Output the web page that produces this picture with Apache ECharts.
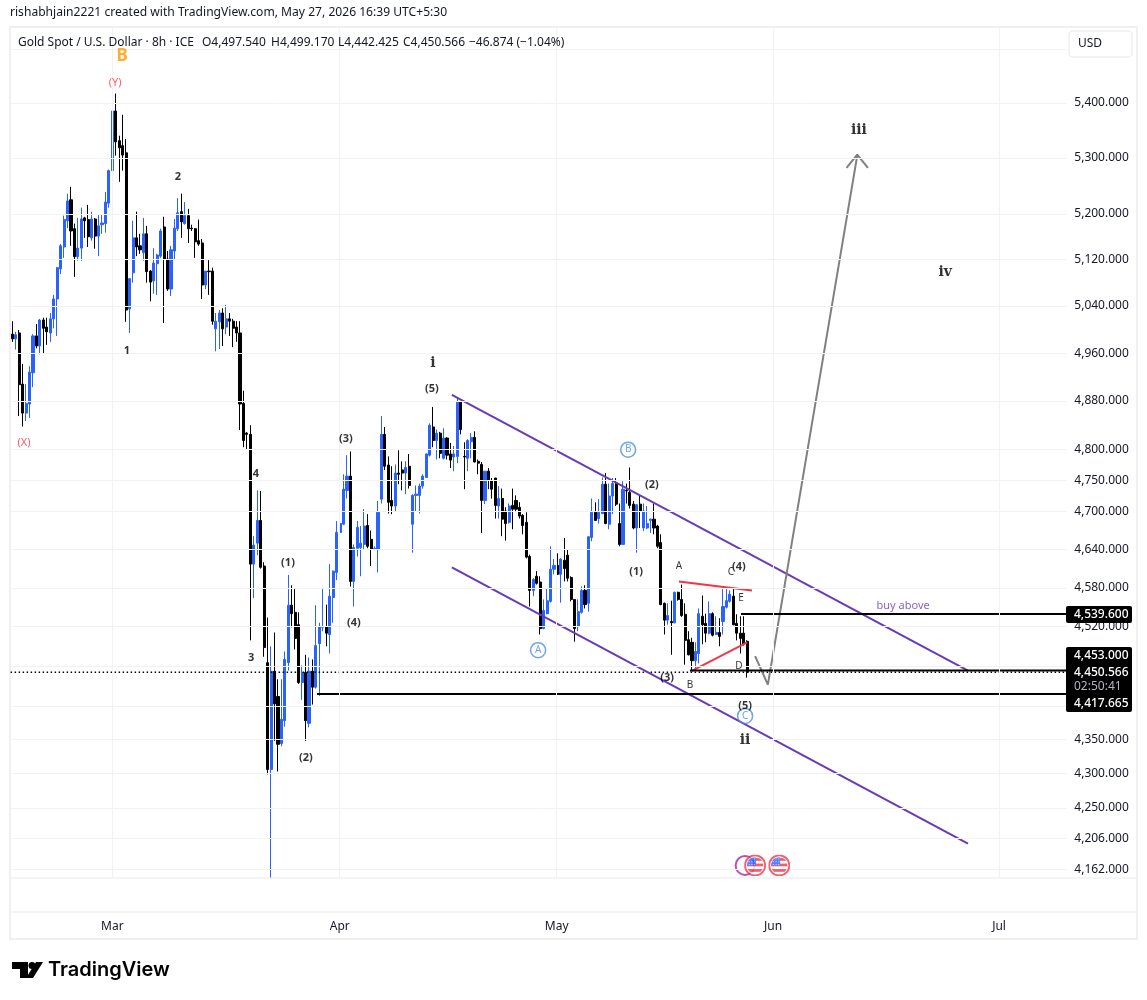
<!DOCTYPE html>
<html>
<head>
<meta charset="utf-8">
<style>html,body{margin:0;padding:0;background:#fff}#c{width:1147px;height:1000px}</style>
<script src="https://cdn.jsdelivr.net/npm/echarts@6/dist/echarts.min.js"></script>
</head>
<body>
<div id="c"></div>
<script>
const opens = [
4992,4984,4994,4908,4860,4875,4927,4989,4972,5016,
5004,4994,5018,5052,5104,5142,5188,5225,5174,5125,
5140,5193,5190,5158,5191,5161,5181,5183,5219,5277,
5385,5331,5322,5309,5035,5097,5158,5144,5132,5165,
5100,5083,5113,5126,5177,5121,5069,5135,5174,5204,
5183,5197,5175,5174,5153,5149,5076,5100,5100,5001,
5013,5028,5004,5018,5014,5004,4994,4876,4827,4825,
4617,4650,4686,4614,4465,4306,4452,4414,4344,4378,
4465,4553,4542,4523,4435,4450,4374,4452,4428,4494,
4519,4520,4508,4565,4604,4667,4680,4734,4757,4590,
4642,4643,4648,4678,4656,4640,4640,4720,4825,4775,
4718,4709,4762,4767,4762,4773,4680,4726,4726,4741,
4755,4791,4837,4815,4827,4786,4819,4793,4788,4789,
4878,4789,4786,4813,4820,4781,4776,4718,4765,4750,
4754,4709,4721,4701,4683,4710,4718,4707,4694,4683,
4629,4576,4598,4589,4517,4540,4559,4609,4615,4601,
4623,4631,4596,4562,4520,4542,4576,4556,4659,4699,
4689,4697,4744,4680,4725,4745,4681,4648,4734,4731,
4712,4674,4712,4674,4674,4686,4688,4677,4651,4556,
4530,4528,4526,4573,4562,4539,4500,4496,4468,4479,
4536,4525,4510,4540,4508,4511,4528,4550,4559,4567,
4525,4510,4510,4497.54];
const closes = [
4984,4991,4907,4860,4876,4928,4989,4972,5016,5002,
4996,5018,5052,5106,5144,5190,5223,5170,5125,5140,
5191,5188,5160,5191,5161,5179,5184,5221,5277,5385,
5329,5318,5305,5033,5087,5158,5142,5137,5165,5099,
5081,5114,5128,5170,5121,5069,5137,5175,5202,5186,
5197,5174,5174,5151,5147,5076,5100,5099,5014,5014,
5028,5001,5018,5014,5002,4994,4875,4815,4825,4617,
4647,4686,4612,4488,4306,4452,4403,4343,4380,4470,
4553,4540,4502,4435,4450,4378,4452,4428,4491,4520,
4520,4510,4567,4606,4667,4681,4736,4757,4590,4643,
4675,4650,4677,4645,4640,4642,4699,4825,4773,4715,
4709,4762,4760,4762,4771,4742,4726,4728,4741,4757,
4793,4840,4815,4827,4794,4819,4791,4783,4793,4878,
4833,4788,4815,4820,4780,4778,4718,4765,4750,4736,
4710,4721,4688,4681,4709,4704,4704,4693,4678,4628,
4576,4593,4587,4517,4545,4560,4609,4615,4601,4625,
4610,4595,4562,4517,4543,4576,4554,4660,4699,4686,
4699,4744,4681,4725,4745,4712,4648,4736,4733,4710,
4674,4711,4701,4701,4681,4688,4674,4645,4554,4530,
4537,4526,4573,4562,4537,4499,4477,4468,4482,4540,
4523,4510,4540,4507,4511,4505,4551,4560,4570,4523,
4510,4502,4493,4450.566];
const highs = [
5014,4996,4999,4942,4908,4938,4992,5009,5018,5020,
5020,5028,5059,5107,5147,5197,5236,5248,5183,5193,
5211,5195,5216,5204,5193,5198,5200,5239,5279,5391,
5417,5340,5378,5334,5088,5188,5204,5165,5193,5179,
5102,5140,5130,5174,5195,5135,5144,5191,5228,5236,
5221,5209,5181,5175,5190,5156,5100,5119,5106,5028,
5033,5036,5042,5028,5018,5014,5014,4897,4829,4840,
4661,4734,4733,4620,4534,4490,4511,4440,4440,4482,
4600,4584,4578,4542,4461,4477,4473,4470,4553,4526,
4578,4554,4617,4607,4685,4721,4760,4791,4797,4648,
4685,4677,4704,4696,4670,4645,4717,4855,4837,4789,
4773,4776,4799,4781,4781,4793,4728,4742,4745,4760,
4794,4843,4870,4833,4829,4835,4820,4811,4806,4885,
4880,4812,4817,4827,4830,4784,4780,4765,4770,4754,
4754,4741,4737,4707,4713,4737,4726,4715,4696,4699,
4632,4595,4606,4598,4562,4579,4645,4625,4634,4626,
4658,4640,4598,4562,4562,4582,4584,4661,4721,4715,
4720,4755,4762,4745,4754,4754,4713,4749,4745,4771,
4717,4712,4725,4713,4709,4689,4713,4679,4664,4557,
4556,4560,4574,4574,4585,4556,4513,4503,4496,4548,
4568,4540,4559,4542,4536,4533,4578,4578,4576,4579,
4539,4536,4536,4499.17];
const lows = [
4979,4966,4855,4838,4847,4852,4903,4968,4958,4960,
4974,4979,5002,4989,5095,5123,5175,5144,5090,5118,
5118,5158,5142,5153,5139,5126,5165,5167,5211,5272,
5304,5257,5277,5013,4994,5080,5126,5130,5118,5080,
5048,5061,5059,5123,5011,5066,5057,5121,5170,5158,
5181,5149,5170,5123,5144,5052,5069,5059,5008,4963,
4967,4972,4992,4989,4970,4979,4832,4804,4801,4499,
4564,4631,4610,4474,4299,4151,4348,4303,4340,4369,
4453,4519,4485,4433,4409,4348,4368,4402,4426,4415,
4513,4490,4479,4526,4592,4661,4679,4721,4582,4551,
4629,4598,4640,4642,4614,4639,4604,4713,4767,4697,
4696,4701,4744,4734,4728,4737,4635,4701,4697,4737,
4754,4789,4804,4784,4786,4784,4784,4770,4765,4778,
4825,4736,4765,4786,4779,4760,4666,4712,4736,4721,
4689,4689,4661,4654,4681,4672,4701,4689,4664,4626,
4551,4567,4585,4508,4516,4539,4557,4601,4600,4557,
4590,4590,4559,4497,4513,4540,4548,4543,4653,4685,
4681,4696,4680,4672,4696,4709,4645,4647,4713,4705,
4672,4635,4674,4669,4672,4666,4664,4642,4553,4508,
4523,4477,4525,4560,4535,4462,4476,4452,4456,4464,
4493,4496,4508,4505,4507,4490,4508,4548,4557,4522,
4499,4479,4491,4442.425];

// price scale
const priceTicks = [5500,5400,5300,5200,5120,5040,4960,4880,4800,4750,4700,4640,4580,4520,4460,4400,4350,4300,4250,4206,4162];
const priceLabels = [5400,5300,5200,5120,5040,4960,4880,4800,4750,4700,4640,4580,4520,4350,4300,4250,4206,4162];
const priceMax = 5540.8, priceMin = 4150.2;

// time scale (positions in bars)
const barSlots = 306;
const monthBars = [29,94.9,157.8,220.5,286];
const monthLabels = ['Mar','Apr','May','Jun','Jul'];

// drawings: [bar, price]
const channelUpper = [[127.4,4890],[277,4453]];
const channelLower = [[127.4,4612],[277,4199]];
const triangleTop = [[193.2,4590],[214.4,4576]];
const triangleBottom = [[196.7,4452],[213,4496]];
const projection = [[215.3,4475],[219,4432],[244.9,5304]];
const arrowHead = [[241.8,5282],[244.9,5306],[248,5282]];
const resistance = 4539.6, entry = 4453, stopLevel = 4417.665, lastPrice = 4450.566;
const resistanceStart = 211.2, entryStart = 196.4, stopStart = 88.3;

// labels: [bar, price, text]
const redLabels = [[29.8,5439,'(Y)'],[3.4,4812,'(X)']];
const orangeLabels = [[31.8,5489,'B']];
const impulseLabels = [[33.2,4966,'1'],[48,5268,'2'],[69.2,4474,'3'],[70.6,4763,'4']];
const waveLabels = [[79.9,4621,'(1)'],[85.1,4325,'(2)'],[96.7,4820,'(3)'],[99,4528,'(4)'],[121.6,4901,'(5)'],
  [180.8,4606,'(1)'],[185.4,4745,'(2)'],[189.8,4444,'(3)'],[210.6,4615,'(4)'],[212.4,4402,'(5)']];
const romanLabels = [[121.9,4945,'i'],[212.4,4351,'ii'],[245.4,5351,'iii'],[270.4,5100,'iv']];
const letterLabels = [[193.2,4615,'A'],[196.4,4432,'B'],[208.3,4606,'C'],[210.6,4462,'D'],[211.2,4565,'E']];
const circledLabels = [[152.4,4484,'A'],[178.5,4800,'B'],[212.4,4385,'C']];
const noteLabels = [[258.2,4554,'buy above']];
const eventPrice = 4168;
const otherEvents = [[212.4,eventPrice]];
const usEvents = [[215.3,eventPrice],[222.3,eventPrice]];

const headerText = 'rishabhjain2221 created with TradingView.com, May 27, 2026 16:39 UTC+5:30';
const legendTitle = 'Gold Spot / U.S. Dollar · 8h · ICE';
const legendValues = [[202,'O4,497.540'],[271,'H4,499.170'],[338,'L4,442.425'],[403,'C4,450.566'],[469,'−46.874 (−1.04%)']];

const FONT = '"Noto Sans", sans-serif';
const BLUE = '#2962ff', INK = '#131722', PURPLE = '#673ab7', RED = '#f23645', GRID = '#f2f2f2', FRAME = '#f0f0f0';
const categories = opens.map((_, i) => String(i));
const candles = opens.map((o, i) => [o, closes[i], lows[i], highs[i]]);
const xEnd = barSlots - 0.5;
const fmt = v => v.toLocaleString('en-US', {minimumFractionDigits: 3, maximumFractionDigits: 3});

function lineSeries(data, color, width, type) {
  return {type:'line', xAxisIndex:1, yAxisIndex:0, data, symbol:'none', silent:true, animation:false, z:3,
    lineStyle:{color, width, type:type||'solid', cap:'butt'}};
}
function textSeries(data, color, size, weight, family) {
  return {type:'scatter', xAxisIndex:1, yAxisIndex:0, data, symbolSize:1, silent:true, animation:false, z:5,
    itemStyle:{color:'rgba(0,0,0,0)'},
    label:{show:true, position:'inside', offset:[0,1], formatter:p=>p.value[2], color, fontSize:size, fontWeight:weight||'normal', fontFamily:family||FONT}};
}
const usFlag = 'image://data:image/svg+xml,' + encodeURIComponent(
 '<svg xmlns="http://www.w3.org/2000/svg" width="24" height="24" viewBox="0 0 24 24"><defs><clipPath id="k"><circle cx="12" cy="12" r="9"/></clipPath></defs>'+
 '<circle cx="12" cy="12" r="11" fill="#fff" stroke="#f23645" stroke-width="2"/>'+
 '<g clip-path="url(#k)"><rect x="3" y="3" width="18" height="18" fill="#fff"/><rect x="3" y="4" width="18" height="3" fill="#f23645"/><rect x="3" y="10" width="18" height="3" fill="#f23645"/><rect x="3" y="16" width="18" height="3" fill="#f23645"/><rect x="3" y="3" width="10" height="9" fill="#2962ff"/>'+
 '<path d="M5 5h1M8 5h1M11 5h1M5 8h1M8 8h1M11 8h1M5 11h1M8 11h1M11 11h1" stroke="#fff" stroke-width="1"/></g></svg>');

const chrome = [
  {type:'rect', shape:{x:10,y:27,width:1127,height:912}, style:{fill:'none',stroke:FRAME,lineWidth:2}, z:1},
  {type:'line', shape:{x1:10,y1:878,x2:1137,y2:878}, style:{stroke:FRAME,lineWidth:1.5}, z:1},
  {type:'line', shape:{x1:10,y1:912,x2:1137,y2:912}, style:{stroke:FRAME,lineWidth:1.5}, z:1},
  {type:'text', x:10, y:13, style:{text:headerText,font:'12.1px '+FONT,fill:INK,verticalAlign:'middle'}, z:20},
  {type:'text', x:18, y:43, style:{text:legendTitle,font:'12px '+FONT,fill:INK,verticalAlign:'middle'}, z:20}
].concat(legendValues.map(([x,t])=>({type:'text', x, y:43, style:{text:t,font:'12px '+FONT,fill:INK,verticalAlign:'middle'}, z:20}))).concat([
  {type:'rect', shape:{x:1069,y:31,width:63,height:26,r:4}, style:{fill:'#fff',stroke:FRAME,lineWidth:1.5}, z:20},
  {type:'text', x:1078, y:44, style:{text:'USD',font:'12px '+FONT,fill:INK,verticalAlign:'middle'}, z:21},
  {type:'rect', shape:{x:1066,y:606,width:66,height:17,r:2}, style:{fill:'#000'}, z:20},
  {type:'rect', shape:{x:1066,y:647,width:66,height:65,r:2}, style:{fill:'#000'}, z:20},
  {type:'text', x:1074, y:615, style:{text:fmt(resistance),font:'500 12px '+FONT,fill:'#fff',verticalAlign:'middle'}, z:21},
  {type:'text', x:1074, y:656, style:{text:fmt(entry),font:'500 12px '+FONT,fill:'#fff',verticalAlign:'middle'}, z:21},
  {type:'text', x:1074, y:673, style:{text:fmt(lastPrice),font:'500 12px '+FONT,fill:'#fff',verticalAlign:'middle'}, z:21},
  {type:'text', x:1074, y:687, style:{text:'02:50:41',font:'12px '+FONT,fill:'#b2b5be',verticalAlign:'middle'}, z:21},
  {type:'text', x:1074, y:704, style:{text:fmt(stopLevel),font:'500 12px '+FONT,fill:'#fff',verticalAlign:'middle'}, z:21},
  {type:'polygon', shape:{points:[[12,962],[28,962],[28,978],[20,978],[20,969],[12,969]]}, style:{fill:'#000'}, z:20},
  {type:'circle', shape:{cx:32,cy:965.5,r:3.5}, style:{fill:'#000'}, z:20},
  {type:'polygon', shape:{points:[[36,962],[43,962],[33,978],[26,978]]}, style:{fill:'#000'}, z:20},
  {type:'text', x:48, y:970, style:{text:'TradingView',font:'600 20px Inter, '+FONT,fill:'#000',verticalAlign:'middle'}, z:20}
]);

const chart = echarts.init(document.getElementById('c'), null, {renderer:'canvas'});
chart.setOption({
  animation:false,
  backgroundColor:'#fff',
  graphic:{elements:chrome},
  grid:{left:10.6, top:27, width:3.45*barSlots, height:851, containLabel:false},
  xAxis:[
    {type:'category', data:categories.concat(Array.from({length:barSlots-categories.length},(_,i)=>String(categories.length+i))),
     show:false, boundaryGap:true},
    {type:'value', min:-0.5, max:xEnd, position:'bottom', scale:true,
     axisLine:{show:false}, axisTick:{show:false}, splitLine:{show:false},
     axisLabel:{show:true, customValues:monthBars, margin:43, fontFamily:FONT, fontSize:12, color:INK, hideOverlap:false,
       formatter:v=>monthLabels[monthBars.indexOf(v)]}}
  ],
  yAxis:[{type:'log', logBase:10, min:priceMin, max:priceMax, position:'right',
     axisLine:{show:false}, axisTick:{show:false}, splitLine:{show:false}, minorSplitLine:{show:false},
     axisLabel:{show:true, customValues:priceLabels, margin:8, padding:[2,0,0,0], fontFamily:FONT, fontSize:12, color:INK, hideOverlap:false,
       formatter:v=>fmt(v)}}],
  series:[
    {type:'line', xAxisIndex:1, yAxisIndex:0, data:[[-0.5,4800]], symbol:'none', silent:true, animation:false, z:1,
     lineStyle:{opacity:0},
     markLine:{silent:true, animation:false, symbol:'none', label:{show:false}, emphasis:{disabled:true},
       lineStyle:{color:GRID,width:1,type:'solid'},
       data:priceTicks.map(v=>({yAxis:v})).concat(monthBars.map(v=>({xAxis:v})))}},
    lineSeries([[-0.5,lastPrice],[xEnd,lastPrice]],'#000',1.5,[1.5,2.5]),
    {type:'candlestick', xAxisIndex:0, yAxisIndex:0, data:candles, barWidth:2.6, z:2, silent:true, animation:false, clip:true,
     itemStyle:{color:BLUE,color0:'#000',borderColor:BLUE,borderColor0:'#000',borderWidth:1}},
    lineSeries(channelUpper,PURPLE,2),
    lineSeries(channelLower,PURPLE,2),
    lineSeries(triangleTop,RED,2),
    lineSeries(triangleBottom,RED,2),
    lineSeries(projection,'#808080',2),
    lineSeries(arrowHead,'#808080',2),
    lineSeries([[resistanceStart,resistance],[xEnd,resistance]],'#000',2),
    lineSeries([[entryStart,entry],[xEnd,entry]],'#000',2),
    lineSeries([[stopStart,stopLevel],[xEnd,stopLevel]],'#000',2),
    textSeries(orangeLabels,'#ff9800',17,'bold'),
    textSeries(redLabels,RED,11),
    textSeries(impulseLabels,'#000',11,'bold'),
    textSeries(waveLabels,'#000',11,'bold'),
    textSeries(romanLabels,'#000',14,'bold','"DejaVu Serif", serif'),
    textSeries(letterLabels,'#000',10),
    textSeries(noteLabels,PURPLE,11),
    {type:'scatter', xAxisIndex:1, yAxisIndex:0, data:circledLabels, symbolSize:15, silent:true, animation:false, z:5,
     itemStyle:{color:'rgba(255,255,255,0)',borderColor:'#4a90d9',borderWidth:1.5},
     label:{show:true, position:'inside', formatter:p=>p.value[2], color:'#4a90d9', fontSize:10, fontFamily:FONT}},
    {type:'scatter', xAxisIndex:1, yAxisIndex:0, data:otherEvents, symbolSize:19, silent:true, animation:false, z:4,
     itemStyle:{color:'#fff',borderColor:'#9c27b0',borderWidth:2}},
    {type:'scatter', xAxisIndex:1, yAxisIndex:0, data:usEvents, symbol:usFlag, symbolSize:22, silent:true, animation:false, z:5}
  ]
});
</script>
</body>
</html>
